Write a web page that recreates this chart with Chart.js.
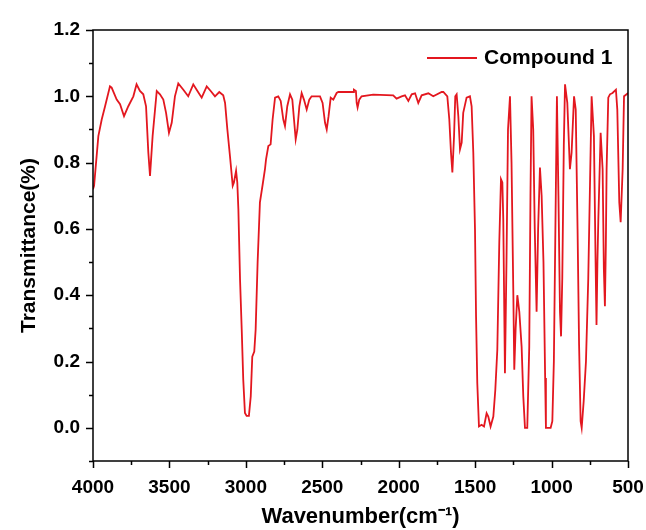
<!DOCTYPE html>
<html lang="en">
<head>
<meta charset="UTF-8">
<title>IR spectrum</title>
<script src="https://cdn.jsdelivr.net/npm/chart.js@4.4.1/dist/chart.umd.min.js"></script>
<style>
  html, body { margin: 0; padding: 0; background: #fff; }
  #wrap { width: 646px; height: 530px; }
</style>
</head>
<body>
<div id="wrap"><canvas id="irChart" width="646" height="530"></canvas></div>
<script>
// values (wavenumber in cm-1, transmittance)
const seriesName = 'Compound 1';
const wavenumbers = [
  4000, 3993, 3965, 3943, 3921, 3889, 3878, 3845, 3823, 3797, 3769, 3736, 3715, 3693, 3671, 3653,
  3638, 3627, 3610, 3583, 3562, 3540, 3522, 3503, 3485, 3464, 3442, 3409, 3377, 3344, 3322, 3289,
  3256, 3230, 3202, 3174, 3148, 3136, 3121, 3104, 3086, 3078, 3064, 3056, 3049, 3038, 3027, 3017,
  3006, 2995, 2980, 2968, 2958, 2945, 2936, 2923, 2908, 2890, 2875, 2868, 2853, 2838, 2825, 2809,
  2788, 2772, 2755, 2744, 2729, 2711, 2696, 2685, 2674, 2663, 2650, 2635, 2620, 2602, 2585, 2570,
  2515, 2498, 2482, 2471, 2459, 2445, 2428, 2406, 2395, 2297, 2293, 2280, 2275, 2269, 2258, 2243,
  2167, 2036, 2014, 1981, 1959, 1937, 1915, 1893, 1872, 1850, 1806, 1774, 1719, 1708, 1682, 1669,
  1658, 1649, 1638, 1630, 1621, 1610, 1599, 1588, 1578, 1556, 1534, 1523, 1512, 1501, 1494, 1486,
  1475, 1458, 1442, 1425, 1414, 1399, 1381, 1368, 1355, 1342, 1331, 1322, 1316, 1305, 1295, 1285,
  1272, 1262, 1250, 1244, 1235, 1224, 1211, 1196, 1185, 1174, 1159, 1146, 1138, 1131, 1120, 1110,
  1098, 1088, 1076, 1065, 1053, 1042, 1037, 1006, 995, 985, 975, 965, 955, 945, 938, 930,
  920, 912, 897, 880, 869, 853, 842, 830, 820, 810, 803, 790, 775, 760, 748, 738,
  723, 712, 706, 700, 694, 679, 666, 658, 651, 645, 640, 629, 618, 601, 579, 570,
  557, 548, 535, 526, 509, 500
];
const transmittance = [
  0.72, 0.73, 0.88, 0.93, 0.97, 1.03, 1.026, 0.99, 0.976, 0.94, 0.97, 1.0, 1.036, 1.016, 1.006, 0.97,
  0.83, 0.76, 0.88, 1.016, 1.006, 0.99, 0.95, 0.89, 0.92, 1.0, 1.039, 1.02, 1.0, 1.036, 1.02, 0.996,
  1.03, 1.016, 1.0, 1.013, 1.003, 0.98, 0.90, 0.82, 0.73, 0.74, 0.775, 0.74, 0.66, 0.447, 0.296, 0.145,
  0.045, 0.036, 0.036, 0.095, 0.215, 0.23, 0.296, 0.50, 0.68, 0.734, 0.78, 0.81, 0.85, 0.855, 0.93, 0.996,
  1.0, 0.986, 0.93, 0.91, 0.97, 1.006, 0.99, 0.93, 0.87, 0.90, 0.97, 1.01, 0.99, 0.96, 0.99, 1.0,
  1.0, 0.98, 0.92, 0.90, 0.94, 0.996, 0.99, 1.01, 1.013, 1.013, 1.02, 1.016, 0.98, 0.966, 0.99, 1.0,
  1.005, 1.003, 0.993, 1.0, 1.003, 0.986, 1.006, 1.009, 0.98, 1.003, 1.009, 1.0, 1.013, 1.013, 1.0, 0.93,
  0.83, 0.77, 0.88, 1.0, 1.006, 0.94, 0.84, 0.86, 0.95, 0.996, 1.0, 0.97, 0.83, 0.60, 0.336, 0.135,
  0.004, 0.009, 0.004, 0.044, 0.034, 0.004, 0.034, 0.115, 0.235, 0.56, 0.75, 0.74, 0.63, 0.165, 0.5, 0.9,
  1.0, 0.8, 0.4, 0.175, 0.3, 0.40, 0.35, 0.245, 0.095, 0.0, 0.0, 0.245, 0.7, 1.0, 0.9, 0.6,
  0.35, 0.6, 0.785, 0.7, 0.5, 0.15, 0.0, 0.0, 0.02, 0.2, 0.6, 1.0, 0.7, 0.35, 0.276, 0.45,
  0.85, 1.036, 0.98, 0.78, 0.83, 1.0, 0.96, 0.6, 0.25, 0.02, 0.0, 0.08, 0.2, 0.45, 0.75, 1.0,
  0.88, 0.5, 0.31, 0.5, 0.63, 0.89, 0.78, 0.48, 0.367, 0.55, 0.78, 0.996, 1.006, 1.01, 1.02, 0.96,
  0.68, 0.62, 0.78, 1.0, 1.006, 1.01
];
const xTickStep = 250;   // minor step, labels every 500
const yTickStep = 0.1;   // minor step, labels every 0.2

const lineColor = '#e3171f';
const fontFamily = "'Liberation Sans', Arial, sans-serif";

const points = wavenumbers.map((w, i) => ({ x: w, y: transmittance[i] }));

// frame, outward tick marks (major/minor) and the legend inside the plot
const framePlugin = {
  id: 'frameTicks',
  afterDraw(chart) {
    const ctx = chart.ctx;
    const { left, right, top, bottom } = chart.chartArea;
    const xs = chart.scales.x, ys = chart.scales.y;
    ctx.save();
    ctx.strokeStyle = '#000';
    ctx.lineWidth = 1.5;
    ctx.strokeRect(left, top, right - left, bottom - top);

    ctx.lineWidth = 1.5;
    ctx.beginPath();
    xs.ticks.forEach(t => {
      const px = Math.round(xs.getPixelForValue(t.value)) + 0.5;
      const major = Math.round(t.value) % 500 === 0;
      ctx.moveTo(px, bottom);
      ctx.lineTo(px, bottom + (major ? 7 : 4));
    });
    ys.ticks.forEach(t => {
      const py = Math.round(ys.getPixelForValue(t.value)) + 0.5;
      const major = Math.round(t.value * 10) % 2 === 0;
      ctx.moveTo(left, py);
      ctx.lineTo(left - (major ? 7 : 4), py);
    });
    ctx.stroke();

    // legend
    const ds = chart.data.datasets[0];
    ctx.strokeStyle = ds.borderColor;
    ctx.lineWidth = 2;
    ctx.beginPath();
    ctx.moveTo(427, 58);
    ctx.lineTo(477, 58);
    ctx.stroke();
    ctx.fillStyle = '#000';
    ctx.font = 'bold 21px ' + fontFamily;
    ctx.textBaseline = 'middle';
    ctx.textAlign = 'left';
    ctx.fillText(ds.label, 484, 58);
    ctx.restore();
  }
};

const ctx = document.getElementById('irChart').getContext('2d');
const irChart = new Chart(ctx, {
  type: 'line',
  data: {
    datasets: [{
      label: seriesName,
      data: points,
      borderColor: lineColor,
      backgroundColor: lineColor,
      borderWidth: 1.8,
      pointRadius: 0,
      tension: 0,
      fill: false
    }]
  },
  options: {
    responsive: false,
    animation: false,
    layout: { padding: { top: 30, right: 18, left: 0, bottom: 0 } },
    plugins: {
      legend: { display: false },
      tooltip: { enabled: false }
    },
    scales: {
      x: {
        type: 'linear',
        reverse: true,
        min: 500,
        max: 4000,
        grid: { display: false, drawTicks: false },
        border: { display: false },
        ticks: {
          stepSize: xTickStep,
          autoSkip: false,
          maxRotation: 0,
          padding: 15,
          color: '#000',
          font: { family: fontFamily, size: 19, weight: 'bold' },
          callback: v => (Math.round(v) % 500 === 0 ? String(Math.round(v)) : '')
        },
        title: {
          display: true,
          text: 'Wavenumber(cm\u207B\u00B9)',
          color: '#000',
          font: { family: fontFamily, size: 22, weight: 'bold' },
          padding: { top: 0, bottom: 0 }
        },
        afterFit: s => { s.height = 69; s.paddingLeft = 0; s.paddingRight = 0; }
      },
      y: {
        min: -0.1,
        max: 1.2,
        grid: { display: false, drawTicks: false },
        border: { display: false },
        ticks: {
          stepSize: yTickStep,
          autoSkip: false,
          padding: 13,
          color: '#000',
          font: { family: fontFamily, size: 19, weight: 'bold' },
          callback: v => {
            const k = Math.round(v * 10);
            return (k >= 0 && k % 2 === 0) ? (k / 10).toFixed(1) : '';
          }
        },
        title: {
          display: true,
          text: 'Transmittance(%)',
          color: '#000',
          font: { family: fontFamily, size: 21, weight: 'bold' },
          padding: { top: 17, bottom: 0 }
        },
        afterFit: s => { s.width = 93; }
      }
    }
  },
  plugins: [framePlugin]
});
</script>
</body>
</html>
